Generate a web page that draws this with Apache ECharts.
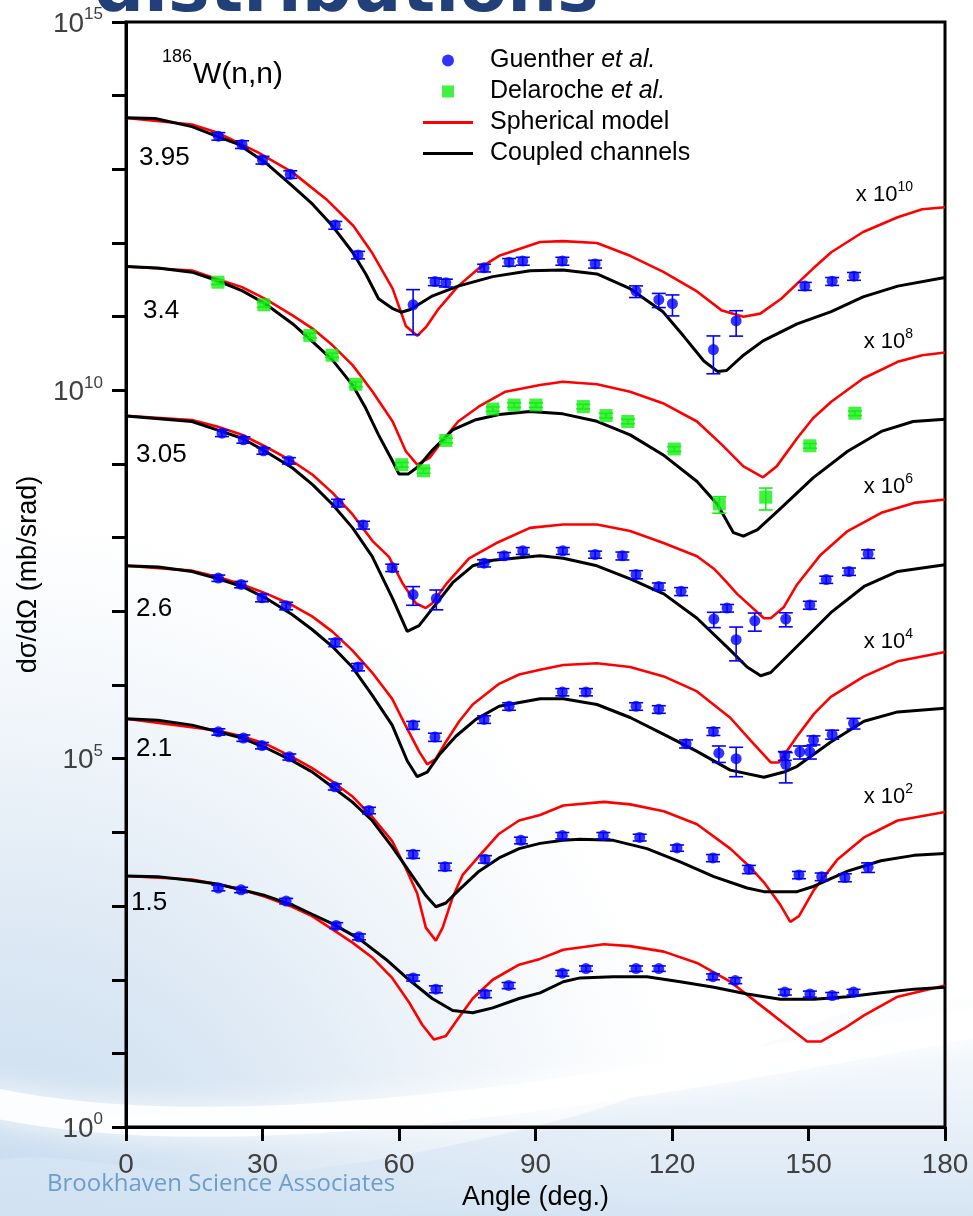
<!DOCTYPE html>
<html>
<head>
<meta charset="utf-8">
<script src="https://cdn.jsdelivr.net/npm/echarts@6/dist/echarts.min.js"></script>
<style>
  html, body { margin: 0; padding: 0; background: #ffffff; }
  #chart { width: 973px; height: 1216px; }
</style>
</head>
<body>
<div id="chart"></div>
<script>
// 186W(n,n) elastic angular distributions, dσ/dΩ in mb/sr.
// Model curves: [angle (deg), dσ/dΩ]; measurements: [angle, dσ/dΩ, uncertainty].

const energies  = ['3.95', '3.4', '3.05', '2.6', '2.1', '1.5'];  // incident energy, MeV
const offsetExp = [10, 8, 6, 4, 2, 0];                           // each set is drawn × 10^n

const xTicks = [0, 30, 60, 90, 120, 150, 180];
const yLabelDecades = [0, 5, 10, 15];

// ---- 3.95 MeV ----
const sph395 = [[0,5.0e3],[14.5,4.06e3],[20,3.16e3],[29,1.70e3],[36.6,910],[44,394],[50,170],[54,75],[58.6,24],[61.5,7.5],[64,5.5],[66,7.3],[68.7,12.8],[73,26],[77.5,45],[82,67],[91,103],[96,106],[103.5,100],[110.8,67],[118,41],[125.5,22],[131,12.1],[135.7,10],[139.4,11],[144,17.5],[151,45],[155,75],[162,141],[169.6,224],[175,288],[180,306]];
const cc395 = [[0,5.0e3],[6.4,4.9e3],[14.5,3.8e3],[20,2.8e3],[24.6,2.2e3],[30.6,1.24e3],[36.6,590],[41,337],[45.4,170],[49.8,75],[52.7,38],[55.5,17.5],[58.5,13],[60.5,11.5],[62.5,12.5],[67.4,19.2],[73,26],[80.6,35],[88.8,42],[96,43],[103.5,38],[110.8,24],[118,11.7],[122.5,5.5],[127,2.5],[130,1.81],[132,1.86],[135.7,3.0],[140,4.7],[147.5,8.0],[155,11.7],[162,18.6],[169.6,26],[180,34]];
const guenther395 = [[20.3,2.82e3,330],[25.5,2.18e3,260],[30.0,1.34e3,160],[36.1,855,100],[46.0,175,21],[51.0,69,8],[63.1,14.5,8.8],[67.9,30,3.6],[70.3,28.8,3.5],[78.7,46,5.5],[84.2,55,6.5],[87.2,57,7],[95.9,57,7],[103.1,52,6.3],[112.1,22.2,4],[117.1,17,3.7],[120.1,15,4.75],[129.1,3.58,1.9],[134.1,8.75,3.3],[149.2,26,3.2],[155.2,30.3,3.7],[160.0,35.5,4.3]];

// ---- 3.4 MeV ----
const sph340 = [[0,4.79e3],[14.5,4.23e3],[20,3.26e3],[25.5,2.52e3],[30.6,1.75e3],[36.6,1.04e3],[41,689],[45.4,409],[49.8,220],[54.2,96],[58.6,37.8],[61.5,14.9],[64,9.8],[66.7,12.1],[69.7,21.3],[73,37.8],[77.5,60],[83.4,96],[91,118],[96,131],[103.5,121],[110.8,96],[118,67],[125.5,37.8],[131,18.2],[135.7,9.3],[140,6.6],[143,9.3],[147.5,22.4],[151,41.9],[155,70],[162,145],[169.6,244],[175,300],[180,327]];
const cc340 = [[0,4.79e3],[7,4.59e3],[14.5,4.02e3],[20,3.10e3],[25.5,2.26e3],[30.6,1.50e3],[36.6,804],[41,459],[45.4,257],[49.8,118],[52.7,57],[55.5,24.9],[58.6,10.9],[60,7.3],[62,7.3],[64.4,9.4],[67.4,15.6],[71.8,29],[76.9,40],[82,47],[88.8,51.5],[96,48],[103.5,38],[110.8,24.9],[118,13.4],[125.5,5.8],[130,2.82],[133.5,1.17],[135.7,1.05],[138.8,1.29],[144,2.54],[151,6.5],[158.6,14.9],[166,27.7],[173,37.8],[180,40.6]];
const delaroche340 = [[20.2,2.94e3,200],[30.3,1.45e3,100],[40.4,558,40],[45.3,300,20],[50.5,121,9],[60.6,9.8,0.7],[65.4,8.1,0.6],[70.3,20.9,1.5],[80.6,55.8,4],[85.3,63.2,4.5],[90.1,63.2,4.5],[100.5,60.3,4.3],[105.5,45.5,3.3],[110.3,37.8,2.7],[120.5,16,1.2],[130.4,2.88,0.73],[140.6,3.55,1.17],[150.3,17.7,1.3],[160.2,48.9,3.5]];

// ---- 3.05 MeV ----
const sph305 = [[0,4.5e3],[14.5,3.97e3],[20,3.23e3],[25.5,2.49e3],[30.6,1.73e3],[36.6,1.09e3],[41,716],[45.4,406],[49.8,207],[54.2,90],[57.8,55],[60.7,24.5],[63.7,12.9],[65.9,11.1],[67.3,12.9],[70.3,23.2],[75.4,52.5],[81.3,84],[88.8,136],[96,151],[103.5,151],[110.8,123],[118,85.5],[125.5,56],[129.2,38],[132,25],[134.3,17.3],[140.2,8.07],[141.7,8.07],[144.6,11.5],[147.5,23.2],[152.7,58.9],[158.6,123],[166,218],[173.2,297],[180,330]];
const cc305 = [[0,4.5e3],[14.5,3.78e3],[20,2.91e3],[25.5,2.24e3],[30.6,1.49e3],[36.6,883],[41,525],[45.4,282],[49.8,136],[54.1,55.7],[58.5,15.4],[61.8,5.35],[64.4,6.4],[67.3,10.8],[71.8,24.5],[76.2,41.6],[80.6,49.5],[91,56.9],[96.1,52.5],[103.5,41.6],[110.8,27.6],[118.2,17.3],[125.5,8.07],[132.8,2.98],[136.5,1.76],[139.5,1.34],[141.7,1.48],[147.5,3.36],[154.9,9.6],[162.2,21.8],[169.6,34.8],[180,43.1]];
const guenther305 = [[21.1,2.62e3,260],[25.8,2.13e3,210],[30.2,1.51e3,150],[35.8,1.11e3,110],[46.6,297,35],[52.1,149,18],[58.5,39.2,4.5],[63.1,16.9,4.8],[68.2,15,4.5],[78.7,45.1,5],[83.1,56.9,6],[87.2,66.4,7],[96.0,66.4,7],[103.1,59.2,6.5],[109.1,56.9,7],[112.1,31.7,4],[117.1,21.8,2.5],[122.0,18.7,2.3],[129.2,7.87,1.85],[132.1,11.1,1.3],[134.1,4.13,2.0],[138.2,7.44,2.05],[145.0,7.87,1.7],[150.3,12.2,1.5],[153.9,27,3],[158.9,34.8,4],[163.1,60.4,8]];

// ---- 2.6 MeV ----
const sph260 = [[0,4.16e3],[14.5,3.57e3],[20.3,2.92e3],[25.5,2.32e3],[30.6,1.77e3],[36.5,1.22e3],[40.9,855],[45.3,535],[49.7,298],[54.1,148],[58.5,65],[61.4,28.6],[64.4,12.6],[66.2,8.4],[68.1,10],[70.3,16.9],[73.2,32],[76.2,54.5],[82,104],[86.4,139],[91,161],[96.1,187],[103.5,198],[110.8,176],[118.2,131],[125.5,82],[132.8,36],[137.2,17.9],[141.7,8.9],[143.5,8.9],[147.5,20.2],[151.2,40.6],[154.9,69],[162.2,131],[169.6,210],[180,281]];
const cc260 = [[0,4.16e3],[7.1,4.01e3],[14.5,3.48e3],[20.3,2.76e3],[25.5,2.18e3],[30.6,1.53e3],[36.5,908],[40.9,568],[45.3,336],[49.7,176],[54.1,73],[58.5,28.6],[61.8,9.4],[64,5.7],[66.2,6.6],[68.8,11.2],[72.5,20.2],[76.9,34.2],[82,51.5],[91,65],[96.1,65],[103.5,54.5],[110.8,36.3],[118.2,21.4],[125.5,12.6],[132.8,7.0],[140.2,5.6],[144.6,6.6],[147.5,7.9],[154.9,16.9],[162.2,32.2],[169.6,43.2],[180,48.5]];
const guenther260 = [[20.3,2.83e3,280],[25.3,2.32e3,230],[29.9,1.53e3,180],[35.2,1.19e3,140],[46.0,377,45],[51.0,176,20],[63.1,28.6,3.5],[67.9,19.7,2.5],[78.7,34.2,4],[84.2,51.5,6],[95.9,80.4,9],[101.1,80.4,9],[112.1,51.5,6],[117.1,46.9,5.5],[123.1,16,2],[129.1,23.5,2.8],[130.3,11.9,3],[134.1,10,4.3],[144.8,11,1.5],[145.0,8.4,3.7],[148.1,12.4,2.5],[150.3,12.4,2.5],[151.1,17.9,2.5],[155.2,21.4,3],[159.9,30.3,5]];

// ---- 2.1 MeV ----
const sph210 = [[0,3.49e3],[20.3,2.40e3],[25.5,2.02e3],[30.6,1.60e3],[36.5,1.06e3],[40.9,746],[45.3,495],[49.7,310],[54.1,163],[58.5,76],[61.4,33.6],[64,14.8],[65.9,5.1],[68.1,3.4],[69.6,5.1],[71.8,13.2],[74,26.5],[77.6,47.5],[82,96],[86.4,145],[91,172],[96.1,232],[105,260],[110.8,240],[118.2,194],[125.5,129],[132.8,60.3],[137.2,33.6],[140.2,21],[143.8,10.4],[146,6.1],[147.9,7.3],[151.2,16.6],[156.3,42.4],[162.2,85.5],[169.6,145],[180,189]];
const cc210 = [[0,3.49e3],[7,3.33e3],[14.5,2.86e3],[20.3,2.32e3],[25.5,1.91e3],[30.6,1.42e3],[36.5,942],[40.9,664],[45.3,416],[49.7,260],[54.1,145],[58.5,63.8],[62.2,29.8],[65.9,13.9],[68.1,9.8],[70.3,11],[73.2,16.6],[77.6,29.8],[82,45],[86.4,60.3],[91,71],[96.1,78],[99.8,80.7],[107.1,78],[114.5,60.3],[121.8,39.9],[129.2,25.1],[136.5,17.6],[140.2,15.7],[147.5,15.7],[151.2,18.6],[158.6,29.8],[165.9,41.3],[173.2,48.8],[180,51.7]];
const guenther210 = [[20.3,2.32e3,230],[25.8,1.91e3,190],[29.9,1.51e3,150],[35.9,1.06e3,100],[45.9,416,40],[53.4,199,20],[63.1,50.5,6],[70.1,34.3,4],[78.9,43.3,5],[86.8,78,8],[95.9,90.6,9],[104.9,90.6,9],[112.9,85.5,9],[121.1,61.5,6],[129.0,45,5],[136.9,31.6,4],[147.9,26.5,3],[152.9,25.1,3],[158.0,24.4,3],[163.1,33.6,5]];

// ---- 1.5 MeV ----
const sph150 = [[0,2.56e3],[14.5,2.30e3],[20.3,1.98e3],[25.5,1.66e3],[30.6,1.34e3],[36.5,979],[40.9,731],[45.3,486],[49.7,322],[54.1,201],[58.5,106],[62.2,49.5],[65.1,24.5],[67.7,15.4],[70.3,17.2],[73.2,30.9],[76.2,55.7],[80.6,100],[86.4,160],[91,192],[96.1,255],[105,304],[110.8,286],[118.2,241],[125.5,169],[132.8,94],[140.2,41.5],[146,21.8],[149.7,14.5],[152.7,14.5],[157.8,21.8],[162.2,32.8],[169.6,58.9],[180,83.7]];
const cc150 = [[0,2.56e3],[7,2.51e3],[14.5,2.22e3],[20.3,1.98e3],[25.5,1.66e3],[30.6,1.39e3],[36.5,1.04e3],[40.9,775],[45.3,578],[51.2,362],[57.1,190],[62.2,100],[67.3,55.7],[71.8,38.2],[76.2,35.7],[80.6,41.5],[86.4,55.7],[91,66.4],[96.1,94],[99.8,106],[107.1,110],[114.5,110],[121.8,94],[129.2,79],[136.5,64],[143.8,54.3],[151.2,54.3],[158.6,58.9],[165.9,66.4],[173.2,74.6],[180,78.9]];
const guenther150 = [[20.3,1.76e3,150],[25.3,1.66e3,140],[35.2,1.17e3,100],[46.2,545,50],[51.2,383,35],[63.1,106,10],[68.1,74.6,8],[78.9,64.1,7],[84.1,83.7,8],[95.9,123,11],[101.1,142,12],[112.1,142,12],[117.1,142,12],[129.0,110,10],[133.9,97.5,9],[144.8,68,6],[150.3,64.1,6],[155.2,61.1,6],[159.9,68,6]];

const sphCurves = [sph395, sph340, sph305, sph260, sph210, sph150];
const ccCurves  = [cc395, cc340, cc305, cc260, cc210, cc150];
const measured  = [guenther395, delaroche340, guenther305, guenther260, guenther210, guenther150];
const measuredBy = ['Guenther et al.', 'Delaroche et al.', 'Guenther et al.', 'Guenther et al.', 'Guenther et al.', 'Guenther et al.'];

// ---- styling / layout ----
const FONT = '"Liberation Sans", Arial, Helvetica, sans-serif';
const RED = '#ff0000', BLACK = '#000000', BLUE = '#0000ff', GREEN = '#14ee14';
const energyLabelPos = [[139, 158], [143, 311], [136, 455], [136, 609], [136, 749], [131, 903]];
const factorLabelY = [193, 340, 485, 640, 795];

const chart = echarts.init(document.getElementById('chart'), null, { renderer: 'canvas' });

function scaled(curve, f) { return curve.map(p => [p[0], p[1] * f]); }
function scaledPts(pts, f) { return pts.map(p => [p[0], p[1] * f, p[2] * f]); }

function errorBars(color) {
  return function (params, api) {
    const x = api.value(0), y = api.value(1), e = api.value(2);
    const hi = api.coord([x, y + e]);
    const lo = api.coord([x, y - e]);
    const w = 7;
    const style = { stroke: color, lineWidth: 1.6 };
    return {
      type: 'group',
      children: [
        { type: 'line', shape: { x1: hi[0], y1: hi[1], x2: lo[0], y2: lo[1] }, style },
        { type: 'line', shape: { x1: hi[0] - w, y1: hi[1], x2: hi[0] + w, y2: hi[1] }, style },
        { type: 'line', shape: { x1: lo[0] - w, y1: lo[1], x2: lo[0] + w, y2: lo[1] }, style }
      ]
    };
  };
}

const series = [];
energies.forEach((en, i) => {
  const f = Math.pow(10, offsetExp[i]);
  series.push({
    type: 'line', name: 'Spherical model', data: scaled(sphCurves[i], f),
    symbol: 'none', showSymbol: false, smooth: false, silent: true, z: 2,
    lineStyle: { color: RED, width: 2.6 }, itemStyle: { color: RED }
  });
  series.push({
    type: 'line', name: 'Coupled channels', data: scaled(ccCurves[i], f),
    symbol: 'none', showSymbol: false, smooth: false, silent: true, z: 2,
    lineStyle: { color: BLACK, width: 3 }, itemStyle: { color: BLACK }
  });
});

const sources = [
  { name: 'Guenther et al.', color: BLUE, symbol: 'circle', size: 11 },
  { name: 'Delaroche et al.', color: GREEN, symbol: 'rect', size: 13 }
];
sources.forEach(src => {
  let pts = [];
  measured.forEach((set, i) => {
    if (measuredBy[i] === src.name) pts = pts.concat(scaledPts(set, Math.pow(10, offsetExp[i])));
  });
  series.push({
    type: 'custom', name: src.name + ' (uncertainty)', data: pts, silent: true, z: 3,
    encode: { x: 0, y: 1 }, renderItem: errorBars(src.color)
  });
  series.push({
    type: 'scatter', name: src.name, data: pts.map(p => [p[0], p[1]]), silent: true, z: 4,
    symbol: src.symbol, symbolSize: src.size, itemStyle: { color: src.color }
  });
});

// rich-text superscript styles
const tickRich = {
  b: { fontFamily: FONT, fontSize: 28, color: '#404040', lineHeight: 32, verticalAlign: 'bottom' },
  s: { fontFamily: FONT, fontSize: 17, color: '#404040', lineHeight: 17, verticalAlign: 'top' }
};
const factorRich = {
  b: { fontFamily: FONT, fontSize: 22, color: '#000', lineHeight: 26, verticalAlign: 'bottom' },
  s: { fontFamily: FONT, fontSize: 14, color: '#000', lineHeight: 16, verticalAlign: 'top' }
};

const graphics = [
  // slide background
  { type: 'rect', z: -20, silent: true, shape: { x: 0, y: 0, width: 973, height: 1216 },
    style: { fill: { type: 'radial', x: 0, y: 1216, r: 700, global: true,
      colorStops: [{ offset: 0, color: '#c8dcef' }, { offset: 0.4, color: '#dce8f4' }, { offset: 0.75, color: '#f3f7fb' }, { offset: 1, color: '#ffffff' }] } } },
  { type: 'polygon', z: -19, silent: true,
    shape: { points: [[0, 1216], [0, 1160], [250, 1175], [560, 1120], [973, 995], [973, 1216]], smooth: 0.35 },
    style: { fill: { type: 'linear', x: 0, y: 990, x2: 0, y2: 1216, global: true,
      colorStops: [{ offset: 0, color: 'rgba(222,234,246,0.0)' }, { offset: 0.5, color: 'rgba(222,234,246,0.6)' }, { offset: 1, color: 'rgba(210,226,242,0.9)' }] } } },
  { type: 'bezierCurve', z: -18, silent: true,
    shape: { x1: -20, y1: 1100, cpx1: 200, cpy1: 1150, cpx2: 520, cpy2: 1110, x2: 990, y2: 1020 },
    style: { fill: null, stroke: 'rgba(255,255,255,0.85)', lineWidth: 30, shadowBlur: 30, shadowColor: '#ffffff' } },
  // slide title (cropped at top)
  { type: 'text', z: 10, silent: true, x: 94, y: -7,
    style: { text: 'distributions', font: 'bold 70px "DejaVu Sans"', fill: '#21407a', align: 'left', verticalAlign: 'middle' } },
  // footer
  { type: 'text', z: 10, silent: true, x: 47, y: 1184,
    style: { text: 'Brookhaven Science Associates', font: '24px "Open Sans"', fill: '#6d9dcc', align: 'left', verticalAlign: 'middle' } },
  // reaction label
  { type: 'text', z: 10, silent: true, x: 162, y: 68,
    style: { text: '{s|186}{b|W(n,n)}', align: 'left', verticalAlign: 'middle',
      rich: { b: { fontFamily: FONT, fontSize: 30, color: '#000', lineHeight: 44, verticalAlign: 'bottom' },
              s: { fontFamily: FONT, fontSize: 18, color: '#000', lineHeight: 18, verticalAlign: 'bottom', padding: [0, 1, 24, 0] } } } }
];
energies.forEach((en, i) => {
  graphics.push({ type: 'text', z: 10, silent: true, x: energyLabelPos[i][0], y: energyLabelPos[i][1],
    style: { text: en, font: '26px ' + FONT, fill: '#000', align: 'left', verticalAlign: 'middle' } });
  if (offsetExp[i] > 0) {
    graphics.push({ type: 'text', z: 10, silent: true, x: 913, y: factorLabelY[i],
      style: { text: '{b|x 10}{s|' + offsetExp[i] + '}', align: 'right', verticalAlign: 'middle', rich: factorRich } });
  }
});

const legendRich = {
  n: { fontFamily: FONT, fontSize: 25, color: '#000', lineHeight: 31, padding: [0, 0, 0, 12] },
  i: { fontFamily: FONT, fontSize: 25, color: '#000', lineHeight: 31, fontStyle: 'italic' }
};
const lineIcon = 'path://M0,0H50V3H0Z';
const squareIcon = 'path://M0,0H12V12H0Z';

chart.setOption({
  animation: false,
  backgroundColor: 'transparent',
  grid: { left: 126, right: 28, top: 22, bottom: 84, show: true, borderColor: '#000', borderWidth: 3, backgroundColor: 'transparent' },
  legend: {
    orient: 'vertical', left: 423, top: 48, padding: 0, itemGap: 6,
    itemWidth: 50, itemHeight: 12, selectedMode: false,
    itemStyle: { borderWidth: 0 },
    data: [
      { name: 'Guenther et al.', icon: 'circle' },
      { name: 'Delaroche et al.', icon: squareIcon },
      { name: 'Spherical model', icon: lineIcon },
      { name: 'Coupled channels', icon: lineIcon }
    ],
    formatter: name => {
      const m = name.match(/^(.*?)(et al\.)$/);
      return m ? '{n|' + m[1] + '}{i|' + m[2] + '}' : '{n|' + name + '}';
    },
    textStyle: { rich: legendRich, fontSize: 25, fontFamily: FONT, color: '#000' }
  },
  xAxis: {
    type: 'value', min: xTicks[0], max: xTicks[xTicks.length - 1], interval: xTicks[1] - xTicks[0],
    name: 'Angle (deg.)', nameLocation: 'middle', nameGap: 54,
    nameTextStyle: { fontFamily: FONT, fontSize: 27, color: '#000' },
    axisLine: { show: true, lineStyle: { color: '#000', width: 3 } },
    axisTick: { show: true, inside: false, length: 14, lineStyle: { color: '#000', width: 3 } },
    axisLabel: { fontFamily: FONT, fontSize: 28, color: '#404040', margin: 24 },
    splitLine: { show: false }
  },
  yAxis: {
    type: 'log', logBase: 10, min: 1, max: 1e15, interval: 1,
    name: 'dσ/dΩ (mb/srad)', nameLocation: 'middle', nameGap: 84,
    nameTextStyle: { fontFamily: FONT, fontSize: 27, color: '#000' },
    axisLine: { show: true, lineStyle: { color: '#000', width: 3 } },
    axisTick: { show: true, inside: false, length: 14, lineStyle: { color: '#000', width: 3 } },
    axisLabel: {
      margin: 23, rich: tickRich,
      formatter: v => {
        const e = Math.round(Math.log10(v));
        return yLabelDecades.indexOf(e) >= 0 ? '{b|10}{s|' + e + '}' : '';
      }
    },
    splitLine: { show: false },
    minorTick: { show: false }
  },
  graphic: { elements: graphics },
  series: series
});
</script>
</body>
</html>
